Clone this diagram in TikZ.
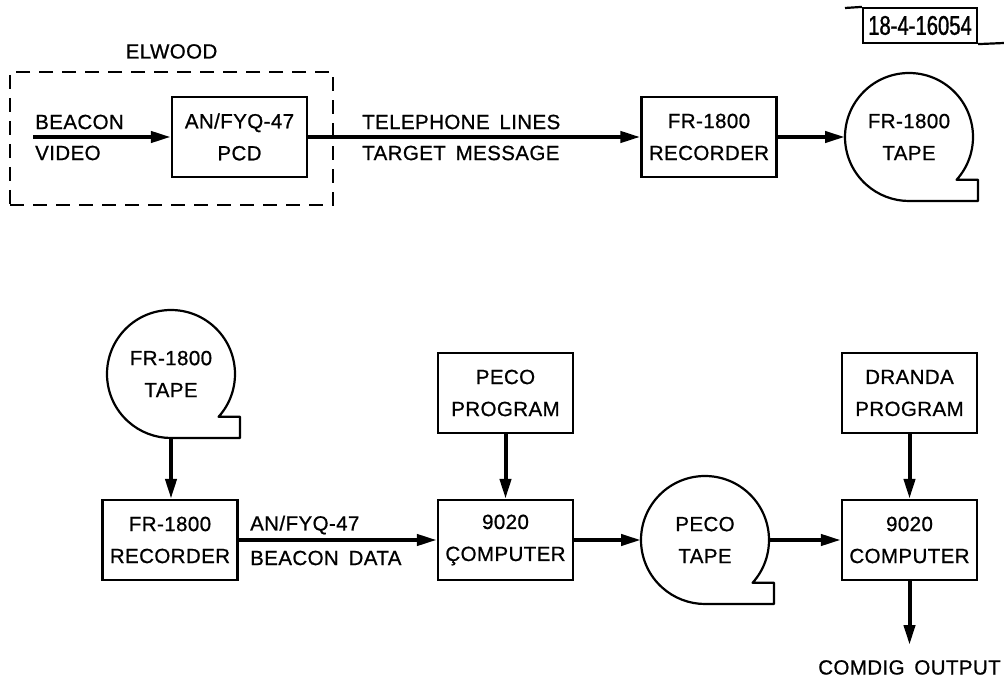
\documentclass[tikz,border=0pt]{standalone}
\usepackage{fontspec}
\setmainfont{Liberation Sans}[LetterSpace=2.0, WordSpace=1.6, FakeBold=0.8]
\newfontfamily\idfont{Liberation Sans}[FakeStretch=0.75, FakeBold=1.2]
\usetikzlibrary{arrows.meta,positioning}

\begin{document}
\begin{tikzpicture}[x=1pt,y=1pt,>={Triangle[length=20pt,width=11pt]},
    every node/.style={font=\fontsize{20.5}{32}\selectfont},
    blk/.style={draw,line width=2.2pt,minimum width=135pt,minimum height=80pt,inner sep=0pt,align=center},
    tape/.style={circle,minimum size=128pt,inner sep=0pt,outer sep=0pt,align=center},
    conn/.style={->,line width=4pt},
    txt/.style={inner sep=0pt}]
    \useasboundingbox (0,0) rectangle (1004,681);

    % top row
    \node[draw,dash pattern=on 14pt off 9pt,line width=2.2pt,minimum width=323pt,minimum height=133pt] (elwood) at (171.5,542.5) {};
    \node[txt,above=12pt of elwood] (elwoodlbl) {ELWOOD};
    \node[blk]  (pcd)   at (239.5,544) {AN/FYQ-47\\PCD};
    \node[blk]  (recA)  at (709,544)   {FR-1800\\RECORDER};
    \node[tape] (tapeA) at (909,544)   {FR-1800\\TAPE};
    \coordinate (vidin) at (33,544);
    \node[txt,anchor=west] (beacon) at (35,559) {BEACON};
    \node[txt,anchor=west] (video)  at (35,528) {VIDEO};
    \node[txt,anchor=west] (tel)    at (362,559) {TELEPHONE LINES};
    \node[txt,anchor=west] (tgt)    at (362,528) {TARGET MESSAGE};

    \draw[conn] (vidin) -- (pcd);
    \draw[conn] (pcd) -- (recA);
    \draw[conn] (recA) -- (tapeA);

    % drawing number
    \node[draw,line width=2.2pt,minimum width=114pt,minimum height=35pt,inner sep=0pt,font=\idfont\fontsize{27}{30}\selectfont] (tag) at (920,655.5) {18-4-16054};
    \coordinate (tagl) at (845,673);
    \coordinate (tagr) at (1004,638);
    \draw[line width=2.2pt] (tagl) -- (tag.north west);
    \draw[line width=2.2pt] (tag.south east) -- (tagr);

    % bottom row
    \node[tape] (tapeB) at (171,307)   {FR-1800\\TAPE};
    \node[blk]  (recB)  at (170,141)   {FR-1800\\RECORDER};
    \node[blk]  (compA) at (505.5,141) {9020\\ÇOMPUTER};
    \node[blk]  (peco)  at (505.5,288) {PECO\\PROGRAM};
    \node[tape] (tapeC) at (705,141)   {PECO\\TAPE};
    \node[blk]  (compB) at (909.5,141) {9020\\COMPUTER};
    \node[blk]  (dranda) at (909.5,288) {DRANDA\\PROGRAM};
    \coordinate (out) at (909.5,36);
    \node[txt,below=15pt of out] (outlbl) {COMDIG OUTPUT};
    \node[txt,anchor=west] (anfyq) at (250,156) {AN/FYQ-47};
    \node[txt,anchor=west] (bdata) at (250,123) {BEACON DATA};

    \draw[conn] (tapeB.south) -- (tapeB.south |- recB.north);
    \draw[conn] (recB) -- (compA);
    \draw[conn] (peco) -- (compA);
    \draw[conn] (compA) -- (tapeC);
    \draw[conn] (tapeC) -- (compB);
    \draw[conn] (dranda) -- (compB);
    \draw[conn] (compB) -- (out);

    % tape outlines
    \foreach \t in {tapeA,tapeB,tapeC}
        \draw[line width=2.2pt,line join=round] (\t.-42) arc[start angle=-42,end angle=270,radius=64pt]
            -- ++(69pt,0) -- ++(0,21.2pt) -- cycle;
\end{tikzpicture}
\end{document}
